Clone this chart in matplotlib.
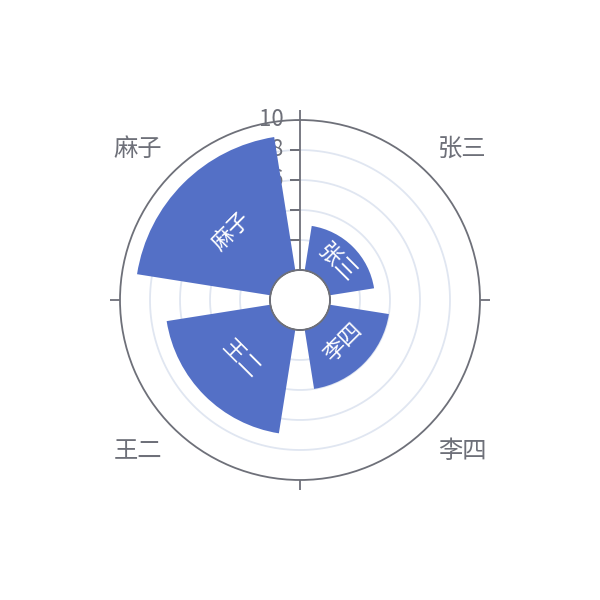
import numpy as np
import matplotlib
matplotlib.use("Agg")
import matplotlib.pyplot as plt
import matplotlib.markers as mk

plt.rcParams['font.family'] = ['Noto Sans CJK SC', 'DejaVu Sans']

categories = ['张三', '李四', '王二', '麻子']
values = [3, 4, 7, 9]
radial_ticks = [2, 4, 6, 8, 10]

BAR = '#5470C6'
AXIS = '#6E7079'
SPLIT = '#E0E6F1'

fig = plt.figure(figsize=(6, 6), dpi=100)
ax = fig.add_axes([0.2, 0.2, 0.6, 0.6], projection='polar')
ax.set_theta_zero_location('N')
ax.set_theta_direction(-1)
ax.set_ylim(0, 10)
ax.set_rorigin(-2)
ax.grid(False)
ax.set_xticks([])
ax.set_yticks([])
for name, sp in ax.spines.items():
    if name == 'polar':
        sp.set_color(AXIS)
        sp.set_linewidth(1.3)
    else:
        sp.set_visible(False)

n = len(categories)
step = 2 * np.pi / n
centers = np.arange(n) * step + step / 2
width = step * 0.8

full = np.linspace(0, 2 * np.pi, 400)
for r in radial_ticks[:-1]:
    ax.plot(full, np.full_like(full, r), color=SPLIT, lw=1.3, zorder=1)

ax.bar(centers, values, width=width, bottom=0, color=BAR, zorder=3)

# inner circle
ax.plot(full, np.zeros_like(full), color=AXIS, lw=1.3, zorder=4, clip_on=False)

# radial axis
ax.plot([0, 0], [0, 10], color=AXIS, lw=1.3, zorder=2)
ax.plot([0] * len(radial_ticks), radial_ticks, ls='none', marker=mk.TICKLEFT,
        ms=7.2, mew=1.3, color=AXIS, zorder=2)
for r in radial_ticks:
    ax.annotate(str(r), xy=(0, r), xytext=(-12, 0), textcoords='offset points',
                ha='right', va='center', fontsize=16, color=AXIS, zorder=2,
                annotation_clip=False)

# angle axis ticks
for th, m in zip([0, np.pi / 2, np.pi, 3 * np.pi / 2],
                 [mk.TICKUP, mk.TICKRIGHT, mk.TICKDOWN, mk.TICKLEFT]):
    ax.plot([th], [10], ls='none', marker=m, ms=7.2, mew=1.3, color=AXIS,
            clip_on=False, zorder=5)

# angle axis labels
for c, lab in zip(centers, categories):
    s, co = np.sin(c), np.cos(c)
    ha = 'left' if s > 0 else 'right'
    va = 'bottom' if co > 0 else 'top'
    ax.text(c, 10 + 15 / 15, lab, ha=ha, va=va, fontsize=17.5, color=AXIS,
            clip_on=False)

# bar labels (tangential)
for c, v, lab in zip(centers, values, categories):
    deg = np.degrees(c)
    rot = -deg
    while rot < -90:
        rot += 180
    while rot > 90:
        rot -= 180
    ax.text(c, v / 2, lab, rotation=rot, rotation_mode='anchor', ha='center',
            va='center', fontsize=16, color='white', zorder=6)

fig.savefig('out.png', dpi=100)
